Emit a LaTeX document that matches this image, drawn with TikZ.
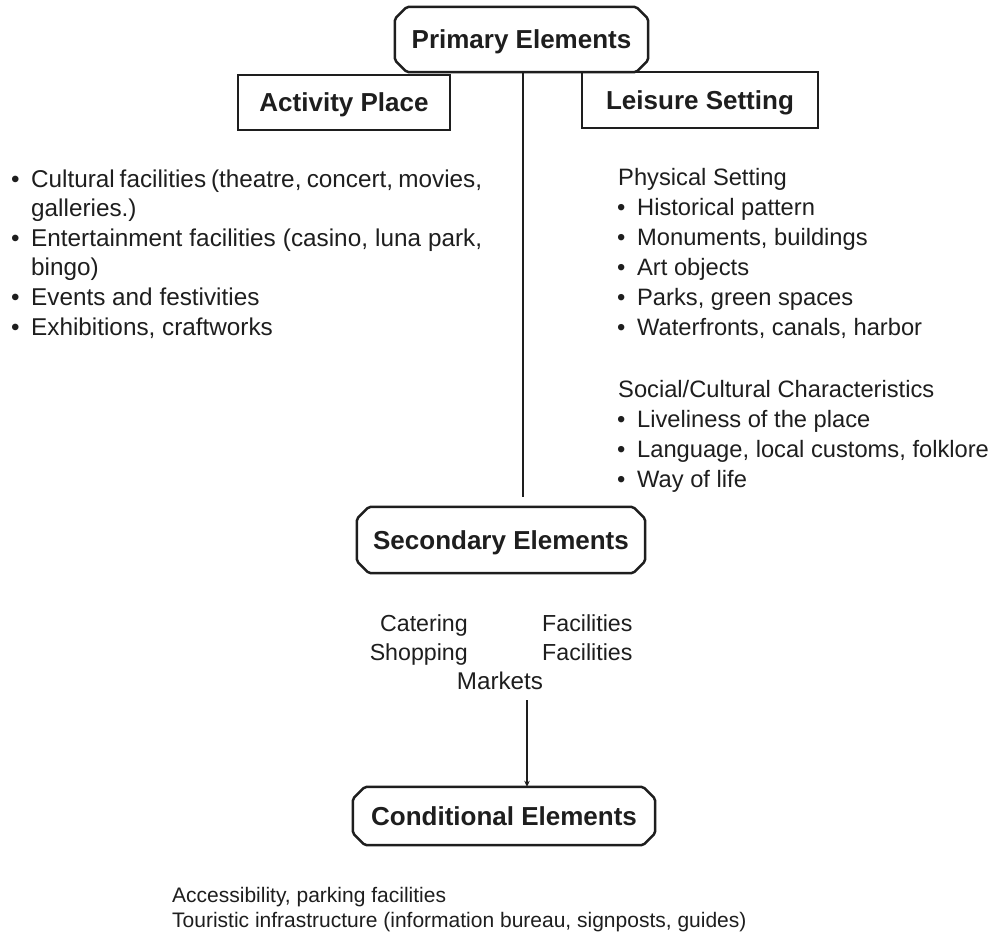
\documentclass[tikz,border=0pt]{standalone}
\usepackage{fontspec}
\setmainfont{Liberation Sans}
\usetikzlibrary{arrows.meta}
\definecolor{ink}{HTML}{1E1E1E}
\newcommand\blt{\makebox[19pt][l]{\hspace{-1pt}•}}
\newcommand\chamfbox[2]{%
  \draw[octline] ([xshift=#2]#1.north west) -- ([xshift=-#2]#1.north east) -- ([yshift=-#2]#1.north east) -- ([yshift=#2]#1.south east) -- ([xshift=-#2]#1.south east) -- ([xshift=#2]#1.south west) -- ([yshift=#2]#1.south west) -- ([yshift=-#2]#1.north west) -- cycle;}
\tikzset{
  octline/.style={line width=2.5pt, draw=ink, rounded corners=2pt},
  octlabel/.style={inner sep=0, font=\bfseries\fontsize{26}{30}\selectfont, text=ink, text height=18.6pt, text depth=0pt},
  rectbox/.style={draw=ink, line width=1.4pt, inner sep=0, font=\bfseries\fontsize{26}{30}\selectfont, text=ink, text height=18.6pt, text depth=0pt},
  txt/.style={anchor=base west, inner sep=0, font=\fontsize{23.7}{28}\selectfont, text=ink},
  txtl/.style={txt, font=\fontsize{24.3}{28}\selectfont},
  txts/.style={txt, font=\fontsize{23.2}{28}\selectfont},
  txtb/.style={txt, font=\fontsize{21}{26}\selectfont},
  conn/.style={draw=ink, line width=1.4pt},
}
\begin{document}
\begin{tikzpicture}[x=1pt,y=-1pt]
\useasboundingbox[fill=white] (0,0) rectangle (997,937);
% boxes
\node[octlabel, minimum width=253pt, minimum height=65pt] (P) at (521.5,39.5) {Primary Elements};
\chamfbox{P}{12pt}
\node[rectbox, minimum width=212pt, minimum height=55pt] (A) at (344,102.5) {Activity Place};
\node[rectbox, minimum width=236pt, minimum height=56pt] (L) at (700,100) {Leisure Setting};
\node[octlabel, minimum width=288pt, minimum height=66pt] (S) at (501,540) {Secondary Elements};
\chamfbox{S}{12pt}
\node[octlabel, minimum width=302pt, minimum height=58pt] (C) at (504,816) {Conditional Elements};
\chamfbox{C}{12pt}
% connectors
\coordinate (v1) at (523,497);
\draw[conn] (P.south -| v1) -- (v1);
\coordinate (mk) at (527,700);
\draw[conn, -{Stealth[length=6pt,width=5.5pt]}] (mk) -- (C.north -| mk);
% left list
\node[txtl] (l1) at (12,187) {\blt\makebox[451pt][s]{Cultural facilities (theatre, concert, movies,}};
\node[txtl] (l2) at (31,216.6) {galleries.)};
\node[txtl] (l3) at (12,246.2) {\blt\makebox[451pt][s]{Entertainment facilities (casino, luna park,}};
\node[txtl] (l4) at (31,275.8) {bingo)};
\node[txtl] (l5) at (12,305.4) {\blt Events and festivities};
\node[txtl] (l6) at (12,335) {\blt Exhibitions, craftworks};
% right list
\node[txt] (r0) at (618,185) {Physical Setting};
\node[txt] (r1) at (618,215) {\blt Historical pattern};
\node[txt] (r2) at (618,245) {\blt Monuments, buildings};
\node[txt] (r3) at (618,275) {\blt Art objects};
\node[txt] (r4) at (618,305) {\blt Parks, green spaces};
\node[txt] (r5) at (618,335) {\blt Waterfronts, canals, harbor};
\node[txt] (r6) at (618,397) {Social/Cultural Characteristics};
\node[txt] (r7) at (618,427) {\blt Liveliness of the place};
\node[txt] (r8) at (618,457) {\blt Language, local customs, folklore};
\node[txt] (r9) at (618,487) {\blt Way of life};
% secondary list
\node[txts, anchor=base east] (s1) at (468,631) {Catering};
\node[txts, anchor=base east] (s2) at (468,660) {Shopping};
\node[txts] (s3) at (542,631) {Facilities};
\node[txts] (s4) at (542,660) {Facilities};
\node[txts, anchor=base, font=\fontsize{24.2}{28}\selectfont] (s5) at (500,689) {Markets};
% conditional list
\node[txtb] (c1) at (172,902) {Accessibility, parking facilities};
\node[txtb] (c2) at (172,927) {Touristic infrastructure (information bureau, signposts, guides)};
\end{tikzpicture}
\end{document}
